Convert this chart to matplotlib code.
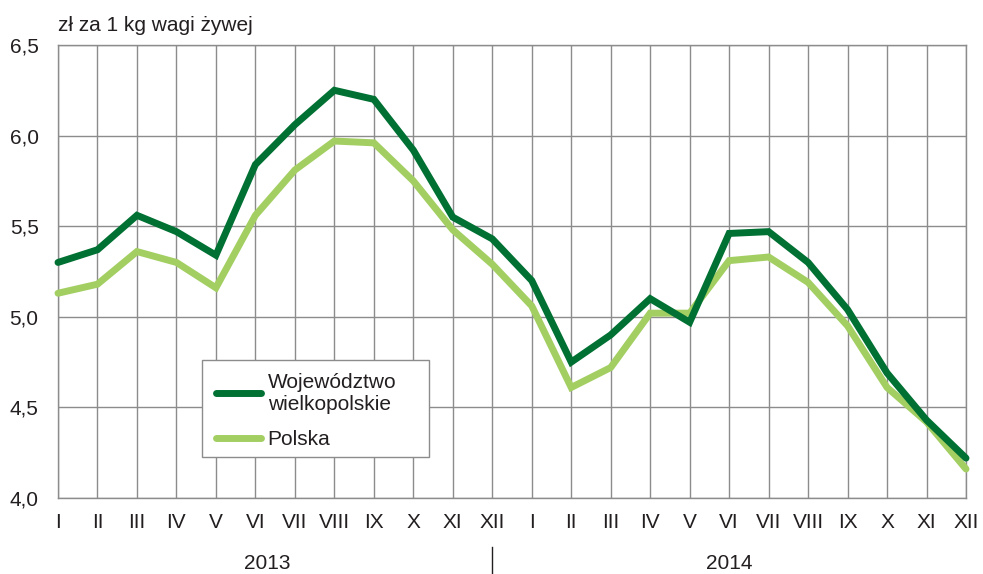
import numpy as np
import matplotlib
matplotlib.use("Agg")
import matplotlib.pyplot as plt
import matplotlib.transforms as mtransforms
from matplotlib.patches import Rectangle

plt.rcParams['font.family'] = ['Liberation Sans', 'DejaVu Sans']

months = ['I', 'II', 'III', 'IV', 'V', 'VI', 'VII', 'VIII', 'IX', 'X', 'XI', 'XII'] * 2
years = ['2013', '2014']
wlkp = [5.30, 5.37, 5.56, 5.47, 5.34, 5.84, 6.06, 6.25, 6.20, 5.92, 5.55, 5.43,
        5.20, 4.75, 4.90, 5.10, 4.97, 5.46, 5.47, 5.30, 5.04, 4.69, 4.43, 4.22]
polska = [5.13, 5.18, 5.36, 5.30, 5.16, 5.56, 5.81, 5.97, 5.96, 5.75, 5.48, 5.29,
          5.06, 4.61, 4.72, 5.02, 5.02, 5.31, 5.33, 5.19, 4.95, 4.61, 4.42, 4.16]
yticks = [4.0, 4.5, 5.0, 5.5, 6.0, 6.5]
ylabels = ['4,0', '4,5', '5,0', '5,5', '6,0', '6,5']

dark = '#007033'
light = '#a3cf62'
grid = '#8c8c8c'
txt = '#231f20'
fs = 15

W, H = 983, 574
fig = plt.figure(figsize=(W / 100, H / 100), dpi=100)
ax = fig.add_axes([58 / W, 1 - 498 / H, (966 - 58) / W, (498 - 45) / H])

x = np.arange(len(months))
ax.plot(x, wlkp, color=dark, lw=5, solid_capstyle='round', solid_joinstyle='miter',
        zorder=4, clip_on=False, label='Województwo\nwielkopolskie')
ax.plot(x, polska, color=light, lw=5, solid_capstyle='round', solid_joinstyle='miter',
        zorder=3.5, clip_on=False, label='Polska')

ax.set_xlim(0, len(months) - 1)
ax.set_ylim(4.0, 6.5)
ax.set_xticks(x)
ax.set_xticklabels(months, fontsize=fs, color=txt)
ax.set_yticks(yticks)
ax.set_yticklabels(ylabels, fontsize=fs, color=txt)
ax.tick_params(length=0, pad=14)
ax.tick_params(axis='x', pad=11)
ax.grid(True, color=grid, lw=1.0)
ax.set_axisbelow(True)
for s in ax.spines.values():
    s.set_color(grid)
    s.set_linewidth(1.0)

ax.text(0, 1.031, 'zł za 1 kg wagi żywej', transform=ax.transAxes, fontsize=fs,
        color=txt, ha='left', va='baseline')

trans = mtransforms.blended_transform_factory(ax.transData, ax.transAxes)
ax.text(5.3, -0.145, years[0], transform=trans, fontsize=fs, color=txt,
        ha='center', va='center')
ax.text(17.0, -0.145, years[1], transform=trans, fontsize=fs, color=txt,
        ha='center', va='center')
ax.plot([11, 11], [-0.108, -0.175], transform=trans, color=txt, lw=1.0, clip_on=False)

# legend box
ax.add_patch(Rectangle((202 / W, 1 - 457 / H), 227 / W, 97 / H, transform=fig.transFigure,
                       facecolor='white', edgecolor=grid, lw=1.0, zorder=3))
leg = ax.legend(loc='upper left', bbox_to_anchor=(201 / W, 1 - 358 / H),
                bbox_transform=fig.transFigure, frameon=False, fontsize=fs,
                handlelength=2.2, handletextpad=0.3, labelspacing=0.8,
                borderpad=0.2)
leg.set_zorder(5)
for t in leg.get_texts():
    t.set_color(txt)
for h in leg.get_lines():
    h.set_solid_capstyle('round')

fig.savefig('out.png', dpi=100)
